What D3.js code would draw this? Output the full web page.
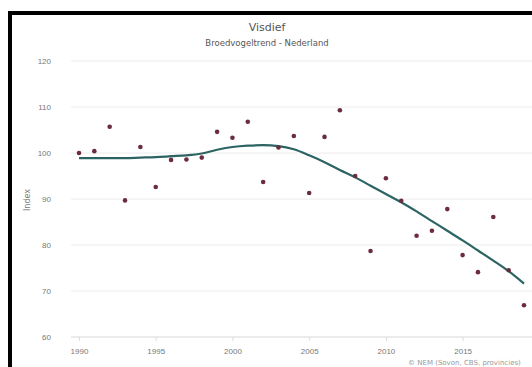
<!DOCTYPE html>
<html><head><meta charset="utf-8">
<script src="https://cdn.jsdelivr.net/npm/d3@7"></script>
<style>body{margin:0;background:#fff;}svg{display:block;font-family:"DejaVu Sans",Verdana,sans-serif;}</style>
</head><body>
<svg id="c" width="532" height="367"></svg>
<script>
const years = d3.range(1990, 2020);
const indexValues = [100.0,100.4,105.7,89.7,101.3,92.6,98.5,98.6,99.0,104.6,103.3,106.8,93.7,101.2,103.7,91.3,103.5,109.3,95.0,78.7,94.5,89.6,82.0,83.1,87.8,77.8,74.1,86.1,74.5,66.9];
const trendValues = [98.9,98.9,98.9,98.9,99.0,99.1,99.3,99.5,99.9,100.7,101.3,101.6,101.7,101.5,100.8,99.5,98.0,96.3,94.7,92.9,91.1,89.3,87.3,85.2,83.1,81.0,78.8,76.6,74.3,71.6];
const yTicks = [60,70,80,90,100,110,120];
const xTicks = [1990,1995,2000,2005,2010,2015];
const title = "Visdief";
const subtitle = "Broedvogeltrend - Nederland";
const yLabel = "Index";
const credit = "© NEM (Sovon, CBS, provincies)";

const svg = d3.select("#c");
const x = d3.scaleLinear().domain([1990, 2019]).range([79, 524]);
const y = d3.scaleLinear().domain([60, 120]).range([337, 61]);

svg.append("g").selectAll("line").data(yTicks).join("line")
  .attr("x1", 71).attr("x2", 540)
  .attr("y1", d => y(d)).attr("y2", d => y(d))
  .attr("stroke", d => d === 60 ? "#d8d8d8" : "#ececec").attr("stroke-width", 1);

const yAxis = d3.axisLeft(y).tickValues(yTicks).tickSize(0).tickPadding(0);
const gy = svg.append("g").attr("transform", "translate(51,0)").call(yAxis);
gy.select(".domain").remove();
gy.selectAll("text").attr("fill", "#777").attr("font-size", 8).attr("dy", "0.32em");

const xAxis = d3.axisBottom(x).tickValues(xTicks).tickFormat(d3.format("d")).tickSize(4).tickPadding(7);
const gx = svg.append("g").attr("transform", "translate(0,337)").call(xAxis);
gx.select(".domain").remove();
gx.selectAll("line").attr("stroke", "#ddd");
gx.selectAll("text").attr("fill", "#777").attr("font-size", 8);

svg.append("text").attr("transform", "translate(30,200) rotate(-90)")
  .attr("text-anchor", "middle").attr("font-size", 8).attr("fill", "#777").text(yLabel);

const line = d3.line().x((d, i) => x(years[i])).y(d => y(d)).curve(d3.curveMonotoneX);
svg.append("path").datum(trendValues).attr("d", line)
  .attr("fill", "none").attr("stroke", "#2c6463").attr("stroke-width", 2.2);

svg.append("g").selectAll("circle").data(indexValues).join("circle")
  .attr("cx", (d, i) => x(years[i])).attr("cy", d => y(d)).attr("r", 2.3)
  .attr("fill", "#6b2d3d");

svg.append("text").attr("x", 267).attr("y", 31).attr("text-anchor", "middle")
  .attr("font-size", 11).attr("fill", "#555").text(title);
svg.append("text").attr("x", 267).attr("y", 46).attr("text-anchor", "middle")
  .attr("font-size", 8.5).attr("fill", "#555").text(subtitle);

svg.append("text").attr("x", 408).attr("y", 365).attr("font-size", 7).attr("fill", "#999").text(credit);

svg.append("rect").attr("x", 10).attr("y", 13).attr("width", 560).attr("height", 400)
  .attr("fill", "none").attr("stroke", "#000").attr("stroke-width", 4);
</script>
</body></html>
